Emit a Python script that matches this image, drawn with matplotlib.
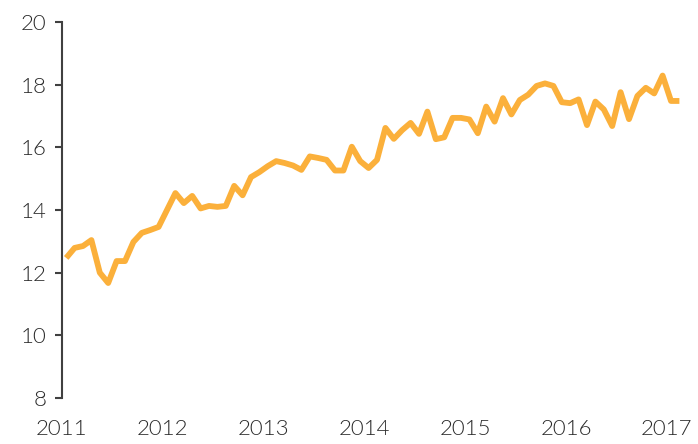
import matplotlib.pyplot as plt
import numpy as np

# monthly values, Jan 2011 .. Feb 2017
values = [12.47, 12.79, 12.85, 13.04, 12.00, 11.67, 12.37, 12.37, 12.98, 13.27, 13.36, 13.46,
          14.00, 14.54, 14.22, 14.45, 14.05, 14.13, 14.10, 14.13, 14.77, 14.47, 15.05, 15.21,
          15.40, 15.56, 15.50, 15.42, 15.28, 15.71, 15.66, 15.60, 15.26, 15.26, 16.02, 15.56,
          15.34, 15.60, 16.62, 16.27, 16.55, 16.78, 16.43, 17.14, 16.26, 16.32, 16.94, 16.94,
          16.89, 16.45, 17.30, 16.82, 17.57, 17.05, 17.51, 17.68, 17.96, 18.04, 17.96, 17.44,
          17.41, 17.53, 16.71, 17.46, 17.21, 16.68, 17.76, 16.90, 17.64, 17.90, 17.72, 18.29,
          17.48, 17.48]
start_year = 2011
years = [2011, 2012, 2013, 2014, 2015, 2016, 2017]
y_ticks = [8, 10, 12, 14, 16, 18, 20]

x = start_year + (np.arange(len(values)) + 0.5) / 12

plt.rcParams['font.family'] = ['Lato', 'DejaVu Sans']
plt.rcParams['font.weight'] = 300

fig = plt.figure(figsize=(6.98, 4.44), dpi=100)
ax = fig.add_axes([62 / 698, 46 / 444, 630 / 698, 376 / 444])

ax.plot(x, values, color='#FBB03B', linewidth=4.2, solid_joinstyle='round',
        solid_capstyle='butt')

ax.set_xlim(2011, 2011 + 630 / 100.8)
ax.set_ylim(8, 20)
ax.set_xticks(years)
ax.set_xticklabels([str(y) for y in years])
ax.set_yticks(y_ticks)

for side in ['top', 'right', 'bottom']:
    ax.spines[side].set_visible(False)
ax.spines['left'].set_color('#404040')
ax.spines['left'].set_linewidth(1.5)

ax.tick_params(axis='y', length=5, width=1.5, color='#404040', pad=6,
               labelsize=16, labelcolor='#2b2b2b')
ax.tick_params(axis='x', length=0, pad=15, labelsize=16, labelcolor='#2b2b2b')

plt.savefig('out.png', dpi=100)
